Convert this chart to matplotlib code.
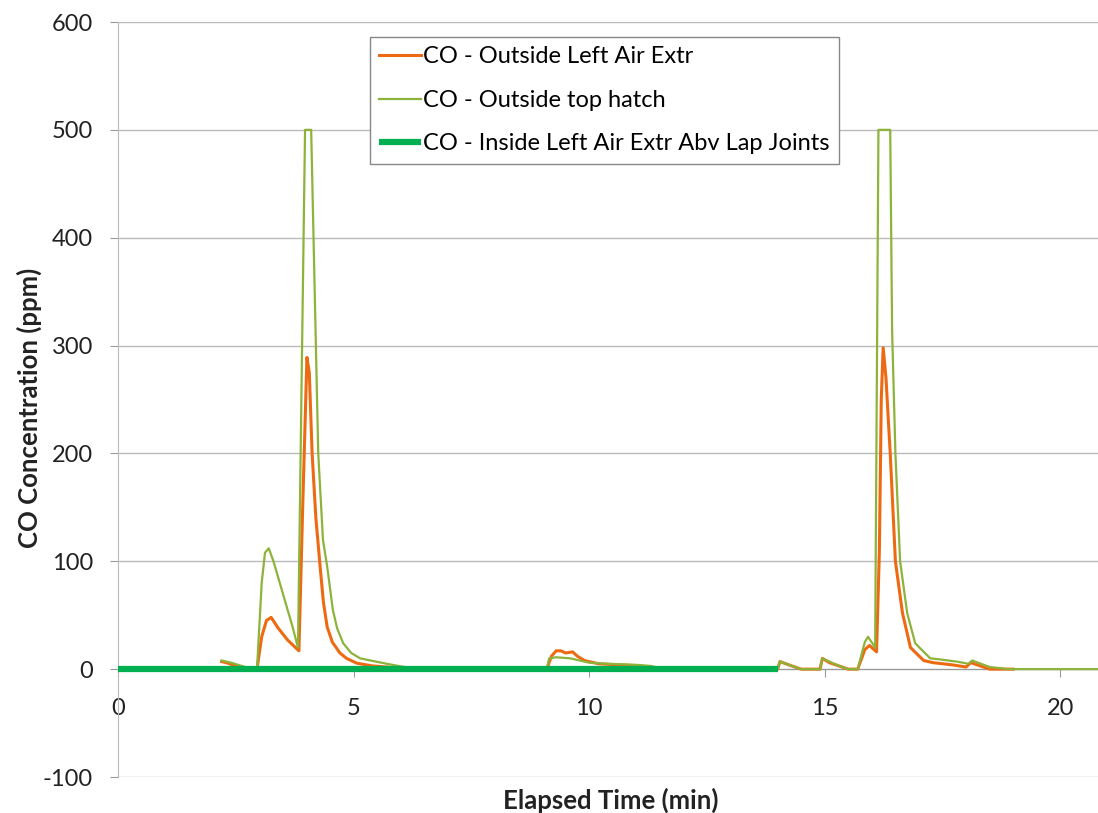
import numpy as np
import matplotlib
matplotlib.use("Agg")
import matplotlib.pyplot as plt

plt.rcParams['font.family'] = ['Lato', 'DejaVu Sans']
plt.rcParams['axes.unicode_minus'] = False

# CO - Outside Left Air Extr
t_left = [2.2, 2.3, 2.5, 2.7, 2.95, 3.05, 3.15, 3.25, 3.4, 3.6, 3.84, 3.92, 4.01, 4.06, 4.12, 4.2, 4.29, 4.36, 4.44, 4.55,
          4.71, 4.85, 5.07, 5.4, 5.7, 6.2,
          9.1, 9.2, 9.3, 9.4, 9.5, 9.65, 9.75, 9.9, 10.2, 10.6, 11.1, 11.4,
          14.0, 14.05, 14.3, 14.5, 14.9, 14.95, 15.1, 15.3, 15.5, 15.7, 15.85, 15.95, 16.1, 16.16, 16.2, 16.24, 16.3,
          16.39, 16.5, 16.65, 16.82, 17.1, 17.3, 17.7, 18.0, 18.1, 18.3, 18.5, 19.0]
co_left = [7, 6, 3, 0, 0, 30, 45, 48, 38, 27, 17, 150, 289, 275, 200, 140, 95, 62, 39, 25,
           15, 10, 5.5, 3, 2, 0,
           0, 12, 17, 17, 15, 16, 12, 8, 5, 4, 3, 0,
           0, 7, 3, 0, 0, 10, 6, 3, 0, 0, 18, 22, 16, 110, 250, 298, 270,
           200, 100, 52, 20, 8, 6, 4, 2, 6, 3, 0, 0]

# CO - Outside top hatch
t_hatch = [2.2, 2.4, 2.7, 2.95, 3.05, 3.12, 3.2, 3.3, 3.5, 3.7, 3.82, 3.97, 4.1, 4.15, 4.2, 4.25, 4.35, 4.44, 4.56, 4.65,
           4.78, 4.95, 5.14, 5.7, 6.2, 6.5,
           9.1, 9.15, 9.3, 9.6, 9.8, 10.0, 10.4, 11.0, 11.3, 11.6,
           14.0, 14.05, 14.3, 14.5, 14.9, 14.95, 15.1, 15.3, 15.5, 15.7, 15.85, 15.92, 16.07, 16.14, 16.39, 16.43,
           16.5, 16.6, 16.75, 16.92, 17.24, 17.45, 17.8, 18.05, 18.13, 18.5, 18.9, 21.0]
co_hatch = [8, 6, 2, 0, 80, 108, 112, 100, 70, 40, 20, 500, 500, 400, 300, 200, 120, 95, 55, 38,
            24, 15, 10, 5, 1, 0,
            0, 10, 11, 10, 8, 6, 5, 4, 3, 0,
            0, 7, 3, 0, 0, 10, 7, 3, 0, 0, 25, 30, 20, 500, 500, 314,
            200, 100, 52, 24, 10, 9, 7, 5, 8, 2, 0, 0]

# CO - Inside Left Air Extr Abv Lap Joints
t_inside = [0.0, 14.0]
co_inside = [0, 0]

fig = plt.figure(figsize=(10.98, 8.13), dpi=100)
ax = fig.add_axes([118 / 1098, 36 / 813, 1 - 118 / 1098, (777 - 22) / 813])

ax.plot(t_left, co_left, color='#EE6A12', lw=2.2, label='CO - Outside Left Air Extr', zorder=3)
ax.plot(t_hatch, co_hatch, color='#8DB33A', lw=1.6, label='CO - Outside top hatch', zorder=4)
ax.plot(t_inside, co_inside, color='#00B050', lw=4.5, label='CO - Inside Left Air Extr Abv Lap Joints', zorder=5,
        solid_capstyle='butt')

ax.set_xlim(0, 20.8)
ax.set_ylim(-100, 600)
ax.set_xticks([0, 5, 10, 15, 20])
ax.set_yticks(np.arange(-100, 601, 100))
ax.grid(axis='y', color='#BBBBBB', lw=1)
ax.set_axisbelow(True)

for s in ['top', 'right']:
    ax.spines[s].set_visible(False)
ax.spines['bottom'].set_position(('data', 0))
ax.spines['bottom'].set_color('#999999')
ax.spines['left'].set_color('#BBBBBB')
ax.tick_params(axis='both', direction='out', length=6, color='#999999', labelsize=17, labelcolor='#222222')
ax.tick_params(axis='y', pad=12)
ax.tick_params(axis='x', pad=15)

leg = ax.legend(loc='upper left', bbox_to_anchor=((370 - 118) / 980, (777 - 37) / 755), borderaxespad=0,
                fontsize=17, frameon=True, fancybox=False, edgecolor='#888888', framealpha=1,
                handlelength=1.75, handletextpad=0.1, labelspacing=0.95, borderpad=0.4)
leg.get_frame().set_linewidth(1)

fig.text(29 / 1098, 1 - 408 / 813, 'CO Concentration (ppm)', rotation=90, ha='center', va='center',
         fontsize=18.5, fontweight='bold', color='#222222')
fig.text(611 / 1098, 1 - 800 / 813, 'Elapsed Time (min)', ha='center', va='center',
         fontsize=18.5, fontweight='bold', color='#222222')

fig.savefig('out.png', dpi=100)
